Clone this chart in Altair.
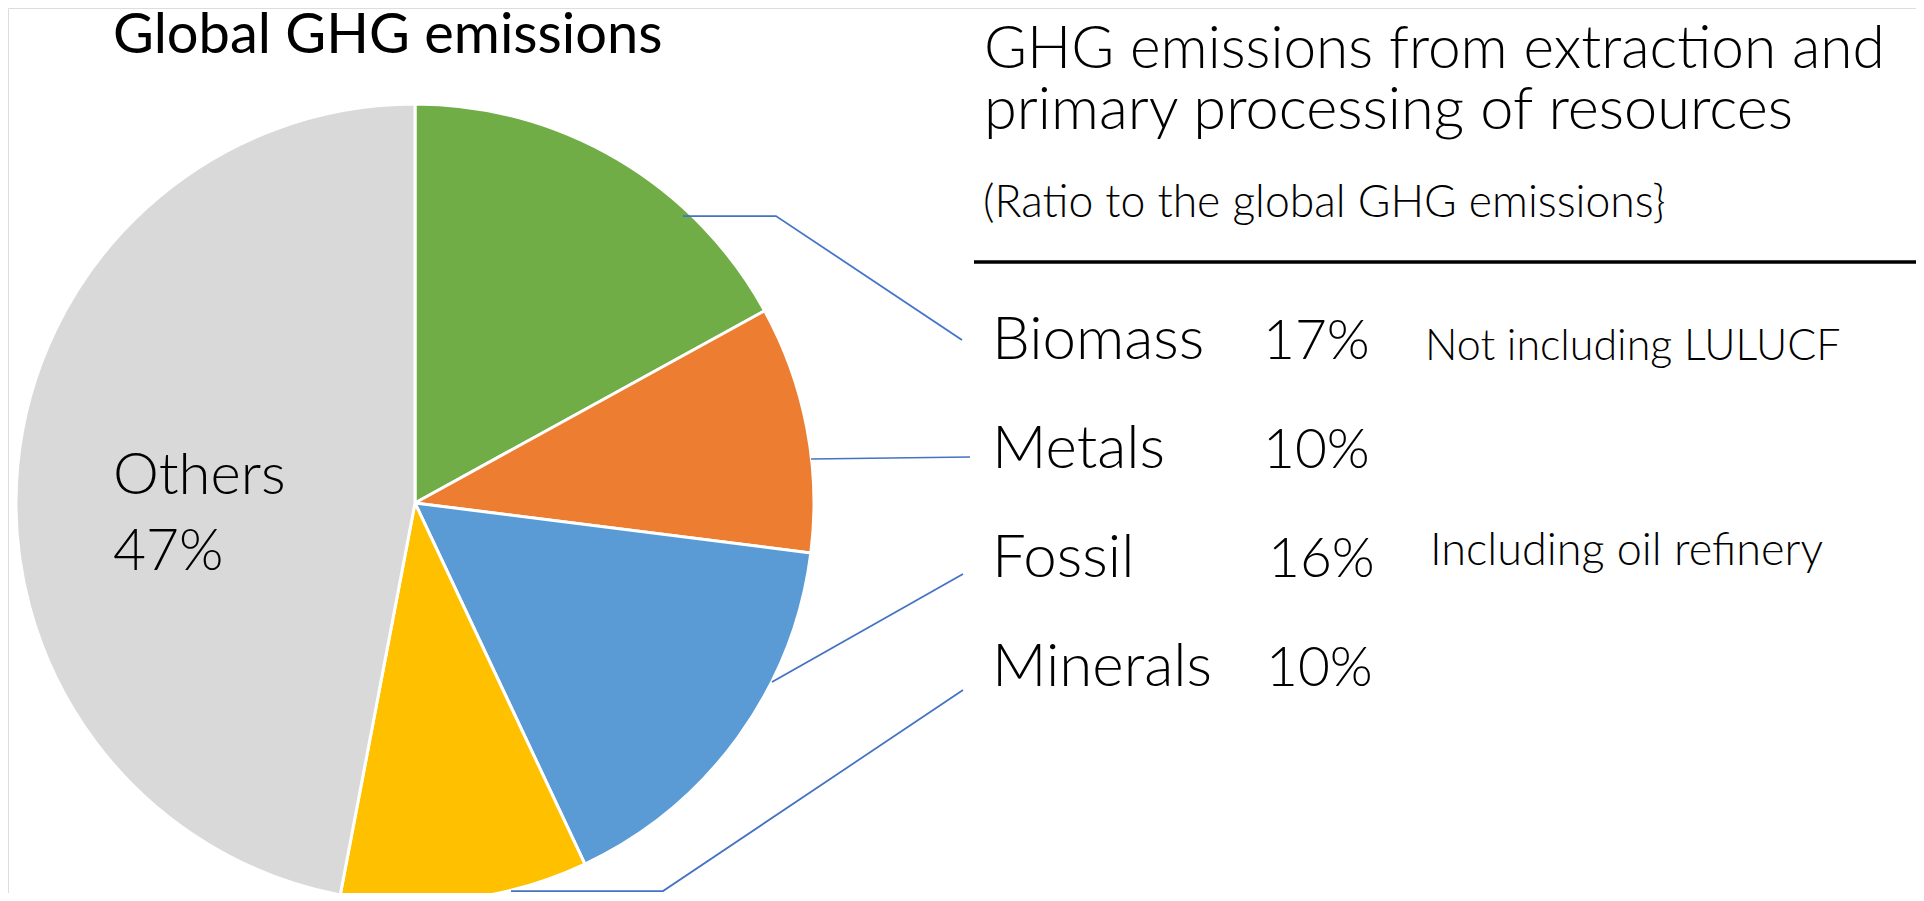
import altair as alt
import pandas as pd

# ---------------- data ----------------
categories = ["Biomass", "Metals", "Fossil", "Minerals", "Others"]
shares = [17, 10, 16, 10, 47]
slice_colors = ["#70AD47", "#ED7D31", "#5B9BD5", "#FFC000", "#D9D9D9"]
notes = ["Not including LULUCF", "", "Including oil refinery", "", ""]

title_left = "Global GHG emissions"
title_right = ["GHG emissions from extraction and", "primary processing of resources"]
subtitle_right = "(Ratio to the global GHG emissions}"

# ---------------- layout (page pixels) ----------------
M = 8                      # page margin
W, H = 1908, 885           # drawing area
CX, CY, R = 415, 503, 399  # pie centre / radius
FONT = "Lato"
ROW_Y = [359, 468, 577, 686]
NAME_X = 992
PCT_X = [1263, 1263, 1268, 1266]
NOTE_X = [1425, None, 1430, None]
NOTE_Y = [360, None, 565, None]
NOTE_SIZE = [43, None, 45, None]
LEADERS = {
    "Biomass": [(683, 216), (776, 216), (962, 340)],
    "Metals": [(811, 459), (970, 457)],
    "Fossil": [(772, 682), (963, 574)],
    "Minerals": [(511, 891), (663, 891), (963, 690)],
}

XS = alt.Scale(domain=[M, M + W], range=[0, W])
YS = alt.Scale(domain=[M, M + H], range=[0, H])


def X(f):
    return alt.X(f, type="quantitative", scale=XS, axis=None)


def Y(f):
    return alt.Y(f, type="quantitative", scale=YS, axis=None)


pie_df = pd.DataFrame({
    "category": categories,
    "share": shares,
    "idx": list(range(len(categories))),
})

pie = alt.Chart(pie_df).mark_arc(
    outerRadius=R, stroke="white", strokeWidth=3
).encode(
    theta=alt.Theta("share:Q", stack=True),
    order=alt.Order("idx:Q"),
    color=alt.Color("category:N", scale=alt.Scale(domain=categories, range=slice_colors), legend=None),
    x=alt.value(CX - M),
    y=alt.value(CY - M),
)

others_df = pie_df[pie_df["category"] == "Others"].copy()
others_df["pct"] = others_df["share"].astype(str) + "%"
others_name = alt.Chart(others_df).mark_text(
    align="left", baseline="alphabetic", font=FONT, fontWeight=300, fontSize=58, color="black"
).encode(text="category:N", x=alt.value(113 - M), y=alt.value(494 - M))
others_pct = alt.Chart(others_df).mark_text(
    align="left", baseline="alphabetic", font=FONT, fontWeight=300, fontSize=57, color="black"
).encode(text="pct:N", x=alt.value(113 - M), y=alt.value(570 - M))

# rows on the right
rows = []
for i, c in enumerate(categories[:4]):
    rows.append({"category": c, "pct": f"{shares[i]}%", "ny": ROW_Y[i],
                 "nx": NAME_X, "px": PCT_X[i]})
rows_df = pd.DataFrame(rows)

names = alt.Chart(rows_df).mark_text(
    align="left", baseline="alphabetic", font=FONT, fontWeight=300, fontSize=60, color="black"
).encode(x=X("nx"), y=Y("ny"), text="category:N")
pcts = alt.Chart(rows_df).mark_text(
    align="left", baseline="alphabetic", font=FONT, fontWeight=300, fontSize=55, color="black"
).encode(x=X("px"), y=Y("ny"), text="pct:N")

note_rows = [{"note": notes[i], "x": NOTE_X[i], "y": NOTE_Y[i], "s": NOTE_SIZE[i]}
             for i in range(4) if notes[i]]
notes_df = pd.DataFrame(note_rows)
note_marks = alt.Chart(notes_df).mark_text(
    align="left", baseline="alphabetic", font=FONT, fontWeight=300, color="black"
).encode(x=X("x"), y=Y("y"), text="note:N", size=alt.Size("s:Q", scale=None, legend=None))

# leader lines
lead_rows = []
for c, pts in LEADERS.items():
    for k, (lx, ly) in enumerate(pts):
        lead_rows.append({"line": c, "step": k, "lx": lx, "ly": ly})
lead_df = pd.DataFrame(lead_rows)
leaders = alt.Chart(lead_df).mark_line(color="#4472C4", strokeWidth=1.75).encode(
    x=X("lx"), y=Y("ly"), detail="line:N", order="step:Q"
)

# titles
title_l = alt.Chart(pd.DataFrame({"t": [title_left]})).mark_text(
    align="left", baseline="alphabetic", font=FONT, fontWeight=400, fontSize=56, color="black"
).encode(text="t:N", x=alt.value(113 - M), y=alt.value(53 - M))

tr_df = pd.DataFrame({"t": title_right, "ty": [68, 129], "s": [58.5, 59.5]})
title_r = alt.Chart(tr_df).mark_text(
    align="left", baseline="alphabetic", font=FONT, fontWeight=300, color="black"
).encode(text="t:N", x=alt.value(984 - M), y=Y("ty"), size=alt.Size("s:Q", scale=None, legend=None))

sub_r = alt.Chart(pd.DataFrame({"t": [subtitle_right]})).mark_text(
    align="left", baseline="alphabetic", font=FONT, fontWeight=300, fontSize=44.5, color="black"
).encode(text="t:N", x=alt.value(983 - M), y=alt.value(217 - M))

rule = alt.Chart(pd.DataFrame({"a": [0]})).mark_rule(color="black", strokeWidth=3.5).encode(
    x=alt.value(974 - M), x2=alt.value(1924 - M), y=alt.value(262 - M)
)

chart = alt.layer(
    pie, leaders, others_name, others_pct, names, pcts, note_marks,
    title_l, title_r, sub_r, rule
).properties(
    width=W, height=H, padding=0, autosize=alt.AutoSizeParams(type="none")
).configure_view(stroke=None).configure(background="white")

chart.save("out.html", embed_options={"renderer": "svg", "actions": False})
